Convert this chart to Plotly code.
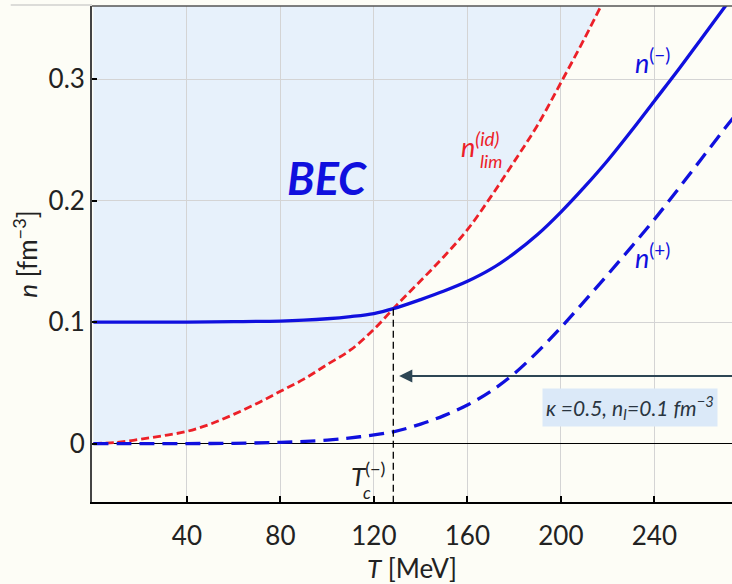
import plotly.graph_objects as go

# ---------------- data ----------------
T_lim = [0, 10, 20, 30, 40, 50, 60, 70, 80, 90, 100, 110, 120, 130, 140, 150, 160, 170, 180, 190, 200, 210, 220]
n_lim = [0, 0.001, 0.0035, 0.0065, 0.010, 0.016, 0.024, 0.033, 0.043, 0.053, 0.065, 0.077, 0.094, 0.1145, 0.134,
         0.154, 0.176, 0.203, 0.232, 0.262, 0.297, 0.333, 0.371]

T_minus = [0, 20, 40, 60, 80, 90, 100, 110, 120, 128.3, 140, 150, 160, 170, 180, 190, 200, 210, 220, 230, 240, 250,
           260, 270, 275]
n_minus = [0.1, 0.1, 0.1, 0.1003, 0.1008, 0.1015, 0.1027, 0.1045, 0.107, 0.111, 0.1185, 0.1255, 0.1335, 0.1435,
           0.1565, 0.172, 0.1905, 0.211, 0.233, 0.257, 0.282, 0.307, 0.333, 0.359, 0.372]

T_plus = [0, 20, 40, 60, 80, 100, 114, 128.3, 140, 150, 160, 170, 180, 190, 200, 210, 220, 230, 240, 250, 260, 270, 275]
n_plus = [0, 0, 0, 0.0002, 0.001, 0.0028, 0.0056, 0.0097, 0.016, 0.023, 0.0317, 0.043, 0.0575, 0.0755, 0.0955,
          0.117, 0.139, 0.1615, 0.1845, 0.209, 0.234, 0.259, 0.271]

T_c = 128.3
n_c = 0.111
arrow_n = 0.0556
x_ticks = [40, 80, 120, 160, 200, 240]
y_ticks = [0, 0.1, 0.2, 0.3]
y_ticktext = ["0", "0.1", "0.2", "0.3"]

X_RANGE = [-0.6, 273.2]
Y_RANGE = [-0.0481, 0.3601]

BLUE = "rgb(16,16,222)"
RED = "rgb(236,32,40)"
FONT = "Lato"
AX_SIZE = 26

fig = go.Figure()

# BEC region: above the ideal-gas limit curve (drawn below the grid)
path = "M %g,%g " % (T_lim[0], 0.5)
for t, n in zip(T_lim, n_lim):
    path += "L %g,%g " % (t, n)
path += "L %g,%g Z" % (T_lim[-1], 0.5)

shapes = [
    dict(type="path", path=path, xref="x", yref="y", fillcolor="#e7f1fb", line=dict(width=0), layer="below"),
    # top frame line
    dict(type="line", xref="paper", yref="paper", x0=0, x1=1, y0=1, y1=1, line=dict(color="#555", width=1.5)),
    dict(type="line", xref="paper", yref="paper", x0=-0.127, x1=0, y0=1.002, y1=1.002,
         line=dict(color="#bbb", width=1)),
]

fig.add_trace(go.Scatter(x=T_lim, y=n_lim, mode="lines", line=dict(color=RED, width=2.8, dash="8px,4px",
                                                                      shape="spline"), hoverinfo="skip"))
fig.add_trace(go.Scatter(x=T_plus, y=n_plus, mode="lines", line=dict(color=BLUE, width=3.3, dash="15px,8px",
                                                                        shape="spline"), hoverinfo="skip"))
fig.add_trace(go.Scatter(x=T_minus, y=n_minus, mode="lines", line=dict(color=BLUE, width=3.3, shape="spline"),
                         hoverinfo="skip"))
# vertical dashed line at T_c
fig.add_trace(go.Scatter(x=[T_c, T_c], y=[n_c, Y_RANGE[0]], mode="lines",
                         line=dict(color="black", width=1.3, dash="7px,4px"), hoverinfo="skip"))

annotations = [
    dict(x=100.1, y=0.2185, text="<b><i>BEC</i></b>", showarrow=False, font=dict(size=45, color=BLUE, family=FONT)),
    dict(x=239.4, y=0.315, text="<i>n</i><sup>(−)</sup>", showarrow=False,
         font=dict(size=27, color=BLUE, family=FONT)),
    dict(x=239.4, y=0.154, text="<i>n</i><sup>(+)</sup>", showarrow=False,
         font=dict(size=27, color=BLUE, family=FONT)),
    dict(x=165.8, y=0.246, text="<i>n</i><sup><i>(id)</i></sup>", showarrow=False,
         font=dict(size=27, color=RED, family=FONT)),
    dict(x=170.0, y=0.2325, text="<i>lim</i>", showarrow=False, font=dict(size=18, color=RED, family=FONT)),
    dict(x=117.6, y=-0.0255, text="<i>T</i><sup>(−)</sup>", showarrow=False,
         font=dict(size=26, color="#222", family=FONT)),
    dict(x=117.0, y=-0.0405, text="<i>c</i>", showarrow=False, font=dict(size=17, color="#222", family=FONT)),
    dict(x=229.5, y=0.0296, text="<i>κ =0.5, n<sub>I</sub>=0.1 fm<sup>−3</sup></i>", showarrow=False,
         font=dict(size=21, color="#2a3540", family=FONT), bgcolor="#dbe9f8", borderpad=3),
    dict(x=130.8, y=arrow_n, ax=X_RANGE[1] + 1, ay=arrow_n, xref="x", yref="y", axref="x", ayref="y", text="",
         showarrow=True, arrowhead=2, arrowsize=1.2, arrowwidth=2.2, arrowcolor="#2d4654", standoff=0),
]

fig.update_layout(
    width=732, height=584,
    margin=dict(l=92, r=0, t=6, b=82),
    paper_bgcolor="#fdfdf6", plot_bgcolor="#fdfdf6",
    showlegend=False,
    font=dict(family=FONT, size=AX_SIZE, color="#222"),
    shapes=shapes,
    annotations=annotations,
)
fig.update_xaxes(range=X_RANGE, tickvals=x_ticks, showgrid=True, gridcolor="#d4d4d4", gridwidth=1,
                 zeroline=False, showline=True, linecolor="black", linewidth=1.8,
                 ticks="inside", ticklen=6, tickwidth=1.5, tickcolor="black",
                 tickfont=dict(size=AX_SIZE, family=FONT, color="#222"), ticklabelstandoff=10,
                 title=dict(text="<i>T</i> [MeV]", font=dict(size=AX_SIZE, family=FONT, color="#222"), standoff=14))
fig.update_yaxes(range=Y_RANGE, tickvals=y_ticks, ticktext=y_ticktext, showgrid=True, gridcolor="#d4d4d4",
                 gridwidth=1, zeroline=True, zerolinecolor="black", zerolinewidth=1.3,
                 showline=True, linecolor="#444", linewidth=1.8,
                 ticks="inside", ticklen=5, tickwidth=1.5, tickcolor="black",
                 tickfont=dict(size=AX_SIZE, family=FONT, color="#222"),
                 title=dict(text="<i>n</i> [fm<sup>−3</sup>]", font=dict(size=AX_SIZE, family=FONT, color="#222"),
                            standoff=4))

fig.write_html("out.html")
